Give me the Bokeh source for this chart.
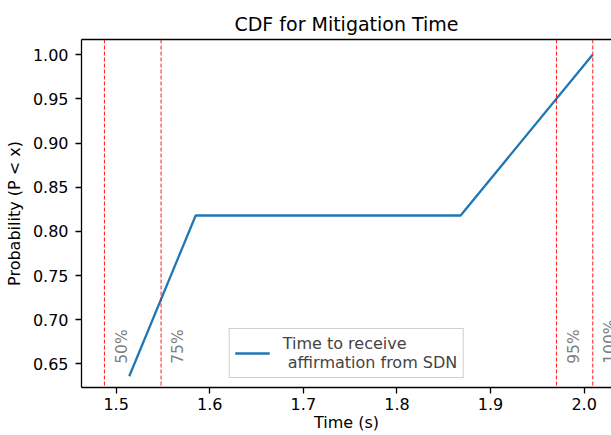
import math
from bokeh.plotting import figure
from bokeh.models import (Span, FixedTicker, PrintfTickFormatter, Range1d, Legend, LegendItem,
                          LinearAxis, ColumnDataSource)
from bokeh.core.properties import value
from bokeh.embed import file_html
from bokeh.resources import INLINE

# ---- data ----
time_s = [1.514, 1.585, 1.868, 2.009]
prob = [0.636, 0.818, 0.818, 1.0]
pct_labels = ["50%", "75%", "95%", "100%"]
pct_times = [1.4875, 1.548, 1.9704, 2.0092]
x_ticks = [1.5, 1.6, 1.7, 1.8, 1.9, 2.0]
y_ticks = [0.65, 0.70, 0.75, 0.80, 0.85, 0.90, 0.95, 1.00]
series_label = "Time to receive\n affirmation from SDN"

FONT = "DejaVu Sans"

p = figure(width=611, height=435, output_backend="svg", toolbar_location=None,
           x_range=Range1d(1.463, 2.0292), y_range=Range1d(0.6232, 1.0173),
           min_border_left=81, min_border_right=0, min_border_top=39, min_border_bottom=48)
p.outline_line_color = None
p.xgrid.visible = False
p.ygrid.visible = False

p.title.text = "CDF for Mitigation Time"
p.title.text_font = FONT
p.title.text_font_size = "19px"
p.title.text_font_style = "normal"
p.title.align = "center"
p.title.text_color = "#000000"

for ax in (p.xaxis[0], p.yaxis[0]):
    ax.axis_line_color = "#000000"
    ax.axis_line_width = 1.3
    ax.major_tick_line_color = "#000000"
    ax.major_tick_line_width = 1.3
    ax.major_tick_in = 0
    ax.major_tick_out = 6
    ax.minor_tick_line_color = None
    ax.major_label_text_font = FONT
    ax.major_label_text_font_size = "16px"
    ax.major_label_text_color = "#000000"
    ax.axis_label_text_font = FONT
    ax.axis_label_text_font_size = "16px"
    ax.axis_label_text_font_style = "normal"
    ax.axis_label_text_color = "#000000"

p.xaxis[0].ticker = FixedTicker(ticks=x_ticks)
p.xaxis[0].formatter = PrintfTickFormatter(format="%.1f")
p.xaxis[0].axis_label = "Time (s)"
p.xaxis[0].major_label_standoff = 4
p.xaxis[0].axis_label_standoff = 0
p.yaxis[0].ticker = FixedTicker(ticks=y_ticks)
p.yaxis[0].formatter = PrintfTickFormatter(format="%.2f")
p.yaxis[0].axis_label = "Probability (P < x)"
p.yaxis[0].major_label_standoff = 7
p.yaxis[0].axis_label_standoff = 6

# top spine
top = LinearAxis(ticker=FixedTicker(ticks=[]), major_label_text_font_size="0px",
                 axis_line_color="#000000", axis_line_width=1.3,
                 major_tick_line_color=None, minor_tick_line_color=None)
p.add_layout(top, "above")

for t in pct_times:
    p.add_layout(Span(location=t, dimension="height", line_color="red", line_alpha=0.9,
                      line_width=1, line_dash="4 2"))

src = ColumnDataSource(dict(x=[t + 0.0185 for t in pct_times], y=[0.65] * len(pct_times),
                            text=pct_labels))
p.text(x="x", y="y", text="text", source=src, angle=math.pi / 2, text_align="left",
       text_baseline="middle", text_color="gray", text_font=value(FONT),
       text_font_size="15.5px")

line = p.line(time_s, prob, line_color="#1f77b4", line_width=2.3)

legend = Legend(items=[LegendItem(label=series_label, renderers=[line])],
                location="bottom_center", label_text_font=FONT, label_text_font_size="16px",
                border_line_color="#d0d0d0", border_line_alpha=1.0, background_fill_alpha=0.8,
                glyph_width=35, margin=9, padding=5, label_standoff=13, spacing=0)
p.add_layout(legend, "center")

open("out.html", "w").write(file_html(p, INLINE))
